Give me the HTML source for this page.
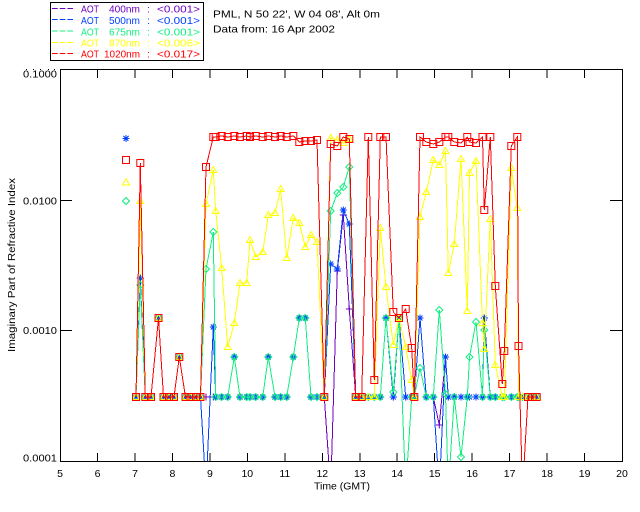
<!DOCTYPE html>
<html><head><meta charset="utf-8"><style>
html,body{margin:0;padding:0;background:#fff;}
svg{display:block;}
text{font-family:"Liberation Sans",sans-serif;}
</style></head><body>
<svg width="640" height="512" viewBox="0 0 640 512" xmlns="http://www.w3.org/2000/svg">
<defs>
<clipPath id="pc"><rect x="60" y="69" width="563" height="393"/></clipPath>
<marker id="mP" markerUnits="userSpaceOnUse" markerWidth="12" markerHeight="12" refX="6" refY="6" overflow="visible"><path d="M2.5 6H9.5M6 2.5V9.5" stroke="#7000c0" fill="none"/></marker>
<marker id="mB" markerUnits="userSpaceOnUse" markerWidth="12" markerHeight="12" refX="6" refY="6" overflow="visible"><path d="M2.5 6H9.5M6 2.5V9.5M3.5 3.5L8.5 8.5M3.5 8.5L8.5 3.5" stroke="#0040ff" fill="none"/></marker>
<marker id="mG" markerUnits="userSpaceOnUse" markerWidth="12" markerHeight="12" refX="6" refY="6" overflow="visible"><path d="M6 2.5L9.5 6L6 9.5L2.5 6Z" stroke="#10f080" fill="none"/></marker>
<marker id="mY" markerUnits="userSpaceOnUse" markerWidth="12" markerHeight="12" refX="6" refY="6" overflow="visible"><path d="M6 2.5L9.5 8.5L2.5 8.5Z" stroke="#ffff00" fill="none"/></marker>
<marker id="mR" markerUnits="userSpaceOnUse" markerWidth="12" markerHeight="12" refX="6" refY="6" overflow="visible"><rect x="2.5" y="2.5" width="7" height="7" stroke="#ff0000" fill="none"/></marker>
</defs>

<!-- legend -->
<rect x="50.5" y="2.5" width="153" height="58" fill="none" stroke="#000"/>
<g stroke-dasharray="5.7 2" stroke-width="1">
<line x1="52" y1="8.5" x2="73" y2="8.5" stroke="#7000c0"/>
<line x1="52" y1="19.5" x2="73" y2="19.5" stroke="#0040ff"/>
<line x1="52" y1="31" x2="73" y2="31" stroke="#10f080"/>
<line x1="52" y1="42.5" x2="73" y2="42.5" stroke="#ffff00"/>
<line x1="52" y1="53.5" x2="73" y2="53.5" stroke="#ff0000"/>
</g>
<g font-size="10.5">
<g fill="#7000c0"><text x="81" y="12.5" textLength="18" lengthAdjust="spacingAndGlyphs">AOT</text><text x="109" y="12.5" textLength="31" lengthAdjust="spacingAndGlyphs">400nm</text><text x="147" y="12.5">:</text><text x="157" y="12.5" textLength="43" lengthAdjust="spacingAndGlyphs">&lt;0.001&gt;</text></g>
<g fill="#0040ff"><text x="81" y="24" textLength="18" lengthAdjust="spacingAndGlyphs">AOT</text><text x="109" y="24" textLength="31" lengthAdjust="spacingAndGlyphs">500nm</text><text x="147" y="24">:</text><text x="157" y="24" textLength="43" lengthAdjust="spacingAndGlyphs">&lt;0.001&gt;</text></g>
<g fill="#10f080"><text x="81" y="35.5" textLength="18" lengthAdjust="spacingAndGlyphs">AOT</text><text x="109" y="35.5" textLength="31" lengthAdjust="spacingAndGlyphs">675nm</text><text x="147" y="35.5">:</text><text x="157" y="35.5" textLength="43" lengthAdjust="spacingAndGlyphs">&lt;0.001&gt;</text></g>
<g fill="#ffff00"><text x="81" y="46.7" textLength="18" lengthAdjust="spacingAndGlyphs">AOT</text><text x="109" y="46.7" textLength="31" lengthAdjust="spacingAndGlyphs">870nm</text><text x="147" y="46.7">:</text><text x="157" y="46.7" textLength="43" lengthAdjust="spacingAndGlyphs">&lt;0.006&gt;</text></g>
<g fill="#ff0000"><text x="81" y="57.5" textLength="18" lengthAdjust="spacingAndGlyphs">AOT</text><text x="104" y="57.5" textLength="36" lengthAdjust="spacingAndGlyphs">1020nm</text><text x="147" y="57.5">:</text><text x="157" y="57.5" textLength="43" lengthAdjust="spacingAndGlyphs">&lt;0.017&gt;</text></g>
</g>
<text x="213" y="17.7" font-size="10.5" textLength="167" lengthAdjust="spacingAndGlyphs" fill="#000">PML, N 50 22', W 04 08', Alt 0m</text>
<text x="213" y="32.7" font-size="10.5" textLength="122" lengthAdjust="spacingAndGlyphs" fill="#000">Data from: 16 Apr 2002</text>

<!-- dots top-left -->
<g fill="#000"><rect x="26" y="69" width="1" height="1"/><rect x="33" y="69" width="1" height="1"/><rect x="40" y="69" width="1" height="1"/><rect x="48" y="69" width="1" height="1"/><rect x="54" y="69" width="1" height="1"/></g>

<!-- data -->
<g clip-path="url(#pc)" fill="none" stroke-width="1" shape-rendering="crispEdges">
<polyline stroke="#7000c0" marker-start="url(#mP)" marker-mid="url(#mP)" marker-end="url(#mP)" points="136,397 140.3,278 145.3,397 151,397 158.5,318 163.5,397 169,397 174,397 179.3,357 185.5,397 190.5,397 196,397 200.5,397 206,397 213.3,397 215.7,397 221.7,397 227.7,397 234.3,357 240,397 246.7,397 250,397 255.7,397 262.7,397 268.3,357 275,397 280.7,397 286.7,397 293.3,357 299.3,318 305.3,318 311,397 317,397 324.3,397 330.7,490 337.3,271 343.3,215 349.3,309 355.7,397 361.7,397 368.3,397 374.3,397 380.3,397 386,318 393.3,397 399,318 405.7,397 411.7,397 414.3,397 420,318 426.3,397 433.3,397 439.3,425 445.5,357 448.3,397 454.3,397 461,397 467.3,397 469.5,397 476,397 482.5,397 484.3,318 490.3,397 495.3,397 502.3,397 504.3,397 511.3,397 517.3,397 518.5,397 522.5,397 528,397 532.5,397 536.7,397"/>
<polyline stroke="#0040ff" marker-start="url(#mB)" marker-mid="url(#mB)" marker-end="url(#mB)" points="136,397 140.3,278 145.3,397 151,397 158.5,318 163.5,397 169,397 174,397 179.3,357 185.5,397 190.5,397 196,397 200.5,397 206,490 213.3,327 215.7,397 221.7,397 227.7,397 234.3,357 240,397 246.7,397 250,397 255.7,397 262.7,397 268.3,357 275,397 280.7,397 286.7,397 293.3,357 299.3,318 305.3,318 311,397 317,397 324.3,397 330.7,264 337.3,269 343.3,210 349.3,224 355.7,397 361.7,397 368.3,397 374.3,397 380.3,397 386,318 393.3,397 399,318 405.7,397 411.7,397 414.3,397 420,318 426.3,397 433.3,397 439.3,490 445.5,357 448.3,397 454.3,397 461,397 467.3,397 469.5,397 476,397 482.5,397 484.3,318 490.3,397 495.3,397 502.3,397 504.3,397 511.3,397 517.3,397 518.5,397 522.5,397 528,397 532.5,397 536.7,397"/>
<polyline stroke="#10f080" marker-start="url(#mG)" marker-mid="url(#mG)" marker-end="url(#mG)" points="136,397 140.3,285 145.3,397 151,397 158.5,318 163.5,397 169,397 174,397 179.3,357 185.5,397 190.5,397 196,397 200.5,397 206,269 213.3,232 215.7,397 221.7,397 227.7,397 234.3,357 240,397 246.7,397 250,397 255.7,397 262.7,397 268.3,357 275,397 280.7,397 286.7,397 293.3,357 299.3,318 305.3,318 311,397 317,397 324.3,397 330.7,211 337.3,193 343.3,187 349.3,167 355.7,397 361.7,397 368.3,397 374.3,397 380.3,397 386,318 393.3,392 399,318 405.7,490 411.7,397 414.3,397 420,368 426.3,397 433.3,397 439.3,310 445.5,394 448.3,490 454.3,397 461,457 467.3,397 469.5,357 476,322 482.5,397 484.3,330 490.3,397 495.3,397 502.3,397 504.3,397 511.3,397 517.3,397 518.5,397 522.5,397 528,397 532.5,397 536.7,397"/>
<polyline stroke="#ffff00" marker-start="url(#mY)" marker-mid="url(#mY)" marker-end="url(#mY)" points="136,397 140.3,201 145.3,397 151,397 158.5,318 163.5,397 169,397 174,397 179.3,357 185.5,397 190.5,397 196,397 200.5,397 206,204 213.3,170 215.7,211 221.7,268 227.7,347 234.3,323 240,283 246.7,283 250,240 255.7,257 262.7,252 268.3,215 275,213 280.7,189 286.7,258 293.3,218 299.3,223 305.3,247 311,235 317,242 324.3,397 330.7,138 337.3,140 343.3,143 349.3,139 355.7,397 361.7,397 368.3,397 374.3,397 380.3,228 386,287 393.3,345 399,318 405.7,347 411.7,380 414.3,397 420,217 426.3,192 433.3,160 439.3,165 445.5,151 448.3,273 454.3,244 461,159 467.3,311 469.5,173 476,161 482.5,323 484.3,349 490.3,219 495.3,365 502.3,397 504.3,397 511.3,168 517.3,208 518.5,397 522.5,397 528,397 532.5,397 536.7,397"/>
<polyline stroke="#ff0000" marker-start="url(#mR)" marker-mid="url(#mR)" marker-end="url(#mR)" points="136,397 140.3,163 145.3,397 151,397 158.5,318 163.5,397 169,397 174,397 179.3,357 185.5,397 190.5,397 196,397 200.5,397 206,167 213.3,137 215.7,137 221.7,136 227.7,137 234.3,136 240,137 246.7,136 250,137 255.7,136 262.7,137 268.3,136 275,137 280.7,136 286.7,137 293.3,136 299.3,142 305.3,141 311,141 317,140 324.3,397 330.7,144 337.3,146 343.3,137 349.3,139 355.7,397 361.7,397 368.3,137 374.3,380 380.3,137 386,137 393.3,312 399,318 405.7,309 411.7,348 414.3,397 420,137 426.3,142 433.3,144 439.3,142 445.5,137 448.3,137 454.3,142 461,143 467.3,137 469.5,142 476,143 482.5,137 484.3,210 490.3,137 495.3,286 502.3,384 504.3,351 511.3,146 517.3,137 518.5,346 522.5,490 528,397 532.5,397 536.7,397"/>
<!-- isolated first points -->
<path d="M122.5 138.3H129.5M126 134.8V141.8M123.5 135.8L128.5 140.8M123.5 140.8L128.5 135.8" stroke="#0040ff"/>
<rect x="122.5" y="156.5" width="7" height="7" stroke="#ff0000"/>
<path d="M126 178.8L129.5 184.8L122.5 184.8Z" stroke="#ffff00"/>
<path d="M126 197.5L129.5 201L126 204.5L122.5 201Z" stroke="#10f080"/>
</g>

<!-- axes -->
<g stroke="#000" stroke-width="1" fill="none" shape-rendering="crispEdges">
<rect x="60.5" y="69.5" width="562" height="392"/>
<path d="M97.5 461V453M135 461V453M172.4 461V453M209.9 461V453M247.3 461V453M284.8 461V453M322.3 461V453M359.8 461V453M397.2 461V453M434.7 461V453M472.2 461V453M509.6 461V453M547.1 461V453M584.6 461V453"/>
<path d="M97.5 70V78M135 70V78M172.4 70V78M209.9 70V78M247.3 70V78M284.8 70V78M322.3 70V78M359.8 70V78M397.2 70V78M434.7 70V78M472.2 70V78M509.6 70V78M547.1 70V78M584.6 70V78"/>
<path d="M61 200.5H72M61 330.5H72M610 200.5H622M610 330.5H622"/>
</g>

<!-- tick labels -->
<g font-size="10.5" fill="#000" text-anchor="end">
<text x="57" y="77.3" textLength="34" lengthAdjust="spacingAndGlyphs">0.1000</text>
<text x="57" y="204.3" textLength="34" lengthAdjust="spacingAndGlyphs">0.0100</text>
<text x="57" y="334" textLength="34" lengthAdjust="spacingAndGlyphs">0.0010</text>
<text x="57" y="461.7" textLength="34" lengthAdjust="spacingAndGlyphs">0.0001</text>
</g>
<g font-size="10.5" fill="#000" text-anchor="middle">
<text x="60" y="477">5</text>
<text x="97.5" y="477">6</text>
<text x="135" y="477">7</text>
<text x="172.4" y="477">8</text>
<text x="209.9" y="477">9</text>
<text x="247.3" y="477">10</text>
<text x="284.8" y="477">11</text>
<text x="322.3" y="477">12</text>
<text x="359.8" y="477">13</text>
<text x="397.2" y="477">14</text>
<text x="434.7" y="477">15</text>
<text x="472.2" y="477">16</text>
<text x="509.6" y="477">17</text>
<text x="547.1" y="477">18</text>
<text x="584.6" y="477">19</text>
<text x="622" y="477">20</text>
<text x="342" y="489.5" textLength="56" lengthAdjust="spacingAndGlyphs">Time (GMT)</text>
<text transform="translate(15,265) rotate(-90)" textLength="174" lengthAdjust="spacingAndGlyphs">Imaginary Part of Refractive Index</text>
</g>
</svg>
</body></html>
